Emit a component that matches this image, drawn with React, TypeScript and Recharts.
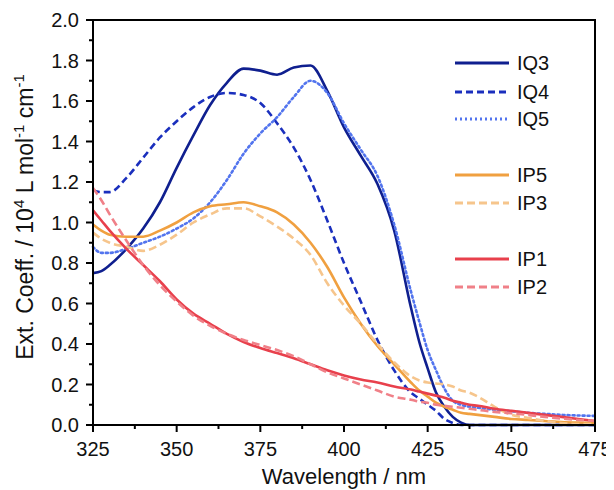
import React from 'react';
import { LineChart, Line, XAxis, YAxis, Legend } from 'recharts';

// wavelength grid (nm) shared by every series
const wavelengths = [325, 327.5, 330, 335, 340, 345, 350, 355, 360, 365, 370, 375, 380, 385, 390, 395, 400, 405, 410, 415, 420, 422.5, 425, 427.5, 430, 432.5, 435, 437.5, 440, 445, 450, 455, 460, 465, 470, 475];

// extinction coefficients, 10^4 L mol-1 cm-1
const iq3 = [0.75, 0.76, 0.79, 0.87, 0.97, 1.10, 1.27, 1.43, 1.58, 1.69, 1.76, 1.75, 1.73, 1.765, 1.775, 1.65, 1.47, 1.33, 1.19, 0.96, 0.58, 0.41, 0.28, 0.16, 0.09, 0.04, 0.012, 0, 0, 0, 0, 0, 0, 0, 0, 0];
const iq4 = [1.16, 1.15, 1.15, 1.22, 1.32, 1.42, 1.50, 1.57, 1.62, 1.64, 1.63, 1.59, 1.49, 1.37, 1.21, 1.01, 0.80, 0.61, 0.42, 0.27, 0.16, 0.13, 0.10, 0.07, 0.03, 0.01, 0, 0, 0, 0, 0, 0, 0, 0, 0, 0];
const iq5 = [0.88, 0.85, 0.85, 0.87, 0.90, 0.93, 0.97, 1.02, 1.10, 1.21, 1.34, 1.44, 1.52, 1.62, 1.70, 1.64, 1.49, 1.36, 1.23, 0.99, 0.66, 0.51, 0.37, 0.27, 0.18, 0.12, 0.10, 0.09, 0.085, 0.075, 0.068, 0.06, 0.055, 0.05, 0.047, 0.045];
const ip5 = [0.99, 0.96, 0.94, 0.93, 0.93, 0.96, 1.00, 1.05, 1.08, 1.09, 1.10, 1.08, 1.05, 0.99, 0.90, 0.78, 0.63, 0.50, 0.39, 0.30, 0.21, 0.17, 0.14, 0.11, 0.09, 0.075, 0.06, 0.055, 0.05, 0.04, 0.03, 0.025, 0.02, 0.015, 0.012, 0.01];
const ip3 = [0.95, 0.92, 0.90, 0.88, 0.86, 0.89, 0.94, 1.00, 1.04, 1.07, 1.07, 1.03, 0.98, 0.92, 0.84, 0.70, 0.59, 0.50, 0.40, 0.31, 0.24, 0.22, 0.21, 0.205, 0.20, 0.19, 0.17, 0.16, 0.14, 0.09, 0.05, 0.035, 0.02, 0.01, 0.005, 0.005];
const ip1 = [1.06, 1.01, 0.96, 0.87, 0.79, 0.71, 0.62, 0.55, 0.50, 0.45, 0.41, 0.38, 0.355, 0.33, 0.30, 0.27, 0.245, 0.225, 0.21, 0.19, 0.175, 0.165, 0.155, 0.145, 0.135, 0.12, 0.11, 0.10, 0.095, 0.08, 0.07, 0.06, 0.05, 0.04, 0.03, 0.02];
const ip2 = [1.17, 1.11, 1.04, 0.91, 0.79, 0.69, 0.61, 0.54, 0.49, 0.45, 0.42, 0.395, 0.37, 0.34, 0.30, 0.26, 0.23, 0.20, 0.17, 0.14, 0.125, 0.115, 0.11, 0.10, 0.095, 0.09, 0.085, 0.08, 0.075, 0.065, 0.058, 0.05, 0.04, 0.032, 0.025, 0.02];

const xTicks = [325, 337.5, 350, 362.5, 375, 387.5, 400, 412.5, 425, 437.5, 450, 462.5, 475];
const xLabels = [325, 350, 375, 400, 425, 450, 475];
const yTicks = [0, 0.1, 0.2, 0.3, 0.4, 0.5, 0.6, 0.7, 0.8, 0.9, 1.0, 1.1, 1.2, 1.3, 1.4, 1.5, 1.6, 1.7, 1.8, 1.9, 2.0];
const yLabels = ['0.0', '0.2', '0.4', '0.6', '0.8', '1.0', '1.2', '1.4', '1.6', '1.8', '2.0'];

const FONT = '"Liberation Sans", Arial, Helvetica, sans-serif';
const W = 606;
const H = 482;
const PLOT_LEFT = 85;
const PLOT_TOP = 12;
const PLOT_RIGHT = 587;
const PLOT_BOTTOM = 417;

const series = [
  { key: 'IQ3', color: '#0f1f8f', dash: undefined, row: 0 },
  { key: 'IQ4', color: '#1a2fbd', dash: '7 4', row: 29 },
  { key: 'IQ5', color: '#5274ee', dash: '2 3', row: 56 },
  { key: 'IP5', color: '#f0a040', dash: undefined, row: 112 },
  { key: 'IP3', color: '#f6c58c', dash: '8 4', row: 140 },
  { key: 'IP1', color: '#e8404c', dash: undefined, row: 196 },
  { key: 'IP2', color: '#f08088', dash: '8 4', row: 224 },
];

const rows = wavelengths.map((w, i) => ({
  w,
  IQ3: iq3[i],
  IQ4: iq4[i],
  IQ5: iq5[i],
  IP5: ip5[i],
  IP3: ip3[i],
  IP1: ip1[i],
  IP2: ip2[i],
}));

function XTick({ x, payload }: any) {
  const major = xLabels.includes(payload.value);
  return (
    <g>
      <line x1={x} x2={x} y1={PLOT_BOTTOM} y2={PLOT_BOTTOM + (major ? 7 : 4)} stroke="#000" strokeWidth={2} />
      {major && (
        <text x={x} y={PLOT_BOTTOM + 31} textAnchor="middle" fontSize={20} fontFamily={FONT} fill="#111">
          {payload.value}
        </text>
      )}
    </g>
  );
}

function YTick({ y, payload }: any) {
  const label = payload.value.toFixed(1);
  const major = yLabels.includes(label);
  return (
    <g>
      <line x1={PLOT_LEFT - (major ? 7 : 4)} x2={PLOT_LEFT} y1={y} y2={y} stroke="#000" strokeWidth={2} />
      {major && (
        <text x={PLOT_LEFT - 14} y={y} dy="0.36em" textAnchor="end" fontSize={20} fontFamily={FONT} fill="#111">
          {label}
        </text>
      )}
    </g>
  );
}

function YTitle() {
  const cx = 25;
  const cy = 209;
  return (
    <text
      x={cx}
      y={cy}
      transform={`rotate(-90, ${cx}, ${cy})`}
      textAnchor="middle"
      fontSize={23}
      fontFamily={FONT}
      fill="#111"
    >
      Ext. Coeff. / 10<tspan dy={-9} fontSize={15}>4</tspan>
      <tspan dy={9}> L mol</tspan><tspan dy={-9} fontSize={15}>-1</tspan>
      <tspan dy={9}> cm</tspan><tspan dy={-9} fontSize={15}>-1</tspan>
    </text>
  );
}

function XTitle() {
  return (
    <text x={(PLOT_LEFT + PLOT_RIGHT) / 2} y={476} textAnchor="middle" fontSize={22} fontFamily={FONT} fill="#111">
      Wavelength / nm
    </text>
  );
}

function LegendBox() {
  return (
    <svg width={150} height={250} style={{ overflow: 'visible' }}>
      {series.map((s) => (
        <g key={s.key} transform={`translate(0, ${s.row + 10})`}>
          <line x1={0} x2={54} y1={0} y2={0} stroke={s.color} strokeWidth={3} strokeDasharray={s.dash} />
          <text x={62} y={7} fontSize={20} fontFamily={FONT} fill="#111">
            {s.key}
          </text>
        </g>
      ))}
    </svg>
  );
}

export default function App() {
  return (
    <div style={{ position: 'relative', width: W, height: H }}>
      <LineChart
        width={W}
        height={H}
        data={rows}
        margin={{ top: PLOT_TOP, right: W - PLOT_RIGHT, left: 0, bottom: 0 }}
      >
        <XAxis
          dataKey="w"
          type="number"
          domain={[325, 475]}
          ticks={xTicks}
          interval={0}
          tick={<XTick />}
          tickLine={false}
          axisLine={{ stroke: '#000', strokeWidth: 2 }}
          height={H - PLOT_BOTTOM}
          label={{ content: () => <XTitle /> }}
        />
        <YAxis
          type="number"
          domain={[0, 2]}
          ticks={yTicks}
          interval={0}
          tick={<YTick />}
          tickLine={false}
          axisLine={{ stroke: '#000', strokeWidth: 2 }}
          width={PLOT_LEFT}
          label={{ content: () => <YTitle /> }}
        />
        <Legend
          layout="vertical"
          align="center"
          verticalAlign="middle"
          content={() => <LegendBox />}
          wrapperStyle={{ left: 447, top: 45, width: 150, height: 250 }}
        />
        {series.map((s) => (
          <Line
            key={s.key}
            dataKey={s.key}
            type="monotone"
            stroke={s.color}
            strokeWidth={2.6}
            strokeDasharray={s.dash}
            strokeLinecap={s.dash === '2 3' ? 'round' : 'butt'}
            dot={false}
            activeDot={false}
            isAnimationActive={false}
          />
        ))}
      </LineChart>
      {/* top and right sides of the frame */}
      <svg
        width={W}
        height={H}
        style={{ position: 'absolute', left: 0, top: 0, zIndex: 5, pointerEvents: 'none' }}
      >
        <polyline
          points={`${PLOT_LEFT - 1},${PLOT_TOP} ${PLOT_RIGHT},${PLOT_TOP} ${PLOT_RIGHT},${PLOT_BOTTOM + 1}`}
          fill="none"
          stroke="#000"
          strokeWidth={2}
        />
      </svg>
    </div>
  );
}
